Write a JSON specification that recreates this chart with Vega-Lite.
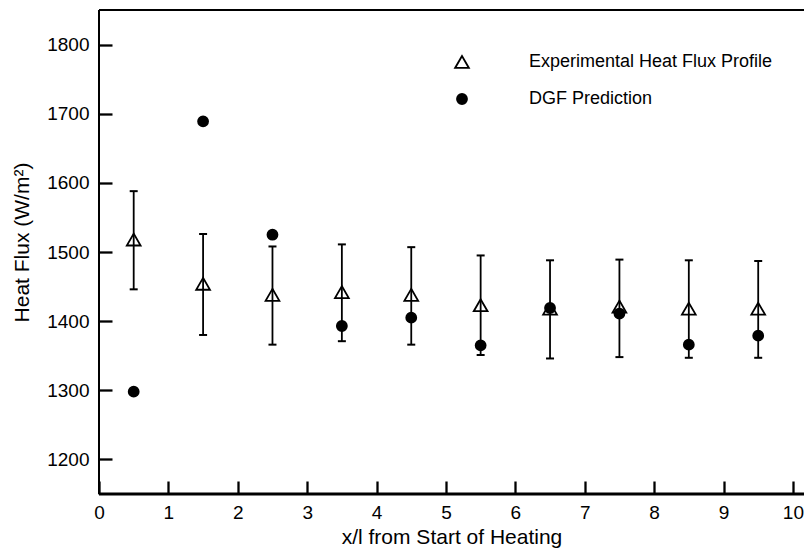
{
  "$schema": "https://vega.github.io/schema/vega-lite/v6.json",
  "width": 705,
  "height": 484,
  "autosize": {"type": "none"},
  "padding": {"left": 99, "top": 10, "right": 0, "bottom": 54},
  "background": "white",
  "config": {
    "view": {"stroke": null},
    "font": "Liberation Sans",
    "axis": {
      "grid": false,
      "domain": false,
      "tickColor": "black",
      "labelColor": "black",
      "titleColor": "black",
      "labelFont": "Liberation Sans",
      "titleFont": "Liberation Sans",
      "labelFontSize": 19,
      "titleFontSize": 21,
      "titleFontWeight": "normal",
      "tickWidth": 2.3,
      "tickSize": 13,
      "offset": -13
    },
    "legend": {
      "labelFont": "Liberation Sans",
      "labelFontSize": 18,
      "labelColor": "black",
      "labelLimit": 400,
      "symbolStrokeWidth": 1.8,
      "padding": 0
    }
  },
  "datasets": {
    "exp": [
      {"x": 0.5, "y": 1518, "lo": 1446, "hi": 1588},
      {"x": 1.5, "y": 1454, "lo": 1380, "hi": 1526},
      {"x": 2.5, "y": 1438, "lo": 1366, "hi": 1508},
      {"x": 3.5, "y": 1442, "lo": 1371, "hi": 1511},
      {"x": 4.5, "y": 1438, "lo": 1366, "hi": 1507},
      {"x": 5.5, "y": 1423, "lo": 1351, "hi": 1495},
      {"x": 6.5, "y": 1418, "lo": 1346, "hi": 1488},
      {"x": 7.5, "y": 1421, "lo": 1348, "hi": 1489},
      {"x": 8.5, "y": 1418, "lo": 1347, "hi": 1488},
      {"x": 9.5, "y": 1418, "lo": 1347, "hi": 1487}
    ],
    "pts": [
      {"series": "Experimental Heat Flux Profile", "x": 0.5, "y": 1518},
      {"series": "Experimental Heat Flux Profile", "x": 1.5, "y": 1454},
      {"series": "Experimental Heat Flux Profile", "x": 2.5, "y": 1438},
      {"series": "Experimental Heat Flux Profile", "x": 3.5, "y": 1442},
      {"series": "Experimental Heat Flux Profile", "x": 4.5, "y": 1438},
      {"series": "Experimental Heat Flux Profile", "x": 5.5, "y": 1423},
      {"series": "Experimental Heat Flux Profile", "x": 6.5, "y": 1418},
      {"series": "Experimental Heat Flux Profile", "x": 7.5, "y": 1421},
      {"series": "Experimental Heat Flux Profile", "x": 8.5, "y": 1418},
      {"series": "Experimental Heat Flux Profile", "x": 9.5, "y": 1418},
      {"series": "DGF Prediction", "x": 0.5, "y": 1298},
      {"series": "DGF Prediction", "x": 1.5, "y": 1689},
      {"series": "DGF Prediction", "x": 2.5, "y": 1525},
      {"series": "DGF Prediction", "x": 3.5, "y": 1393},
      {"series": "DGF Prediction", "x": 4.5, "y": 1405},
      {"series": "DGF Prediction", "x": 5.5, "y": 1365},
      {"series": "DGF Prediction", "x": 6.5, "y": 1419},
      {"series": "DGF Prediction", "x": 7.5, "y": 1411},
      {"series": "DGF Prediction", "x": 8.5, "y": 1366},
      {"series": "DGF Prediction", "x": 9.5, "y": 1379}
    ],
    "border": [{"top": 1850, "bottom": 1150, "left": 0}]
  },
  "layer": [
    {
      "data": {"name": "exp"},
      "mark": {"type": "rule", "strokeWidth": 1.8, "color": "black"},
      "encoding": {
        "x": {
          "field": "x", "type": "quantitative", "title": "x/l from Start of Heating",
          "scale": {"domain": [0, 10.16], "nice": false, "zero": false},
          "axis": {
            "values": [0, 1, 2, 3, 4, 5, 6, 7, 8, 9, 10], "format": "d",
            "labelPadding": 9, "titlePadding": 4, "labelFlush": false
          }
        },
        "y": {
          "field": "lo", "type": "quantitative", "title": "Heat Flux (W/m²)",
          "scale": {"domain": [1150, 1850], "nice": false, "zero": false},
          "axis": {
            "values": [1200, 1300, 1400, 1500, 1600, 1700, 1800], "format": "d",
            "labelPadding": 10, "titlePadding": 14, "titleY": 232
          }
        },
        "y2": {"field": "hi"}
      }
    },
    {
      "data": {"name": "exp"},
      "mark": {"type": "tick", "orient": "horizontal", "size": 8, "thickness": 2, "color": "black", "opacity": 1},
      "encoding": {
        "x": {"field": "x", "type": "quantitative", "title": "x/l from Start of Heating"},
        "y": {"field": "lo", "type": "quantitative", "title": "Heat Flux (W/m²)"}
      }
    },
    {
      "data": {"name": "exp"},
      "mark": {"type": "tick", "orient": "horizontal", "size": 8, "thickness": 2, "color": "black", "opacity": 1},
      "encoding": {
        "x": {"field": "x", "type": "quantitative", "title": "x/l from Start of Heating"},
        "y": {"field": "hi", "type": "quantitative", "title": "Heat Flux (W/m²)"}
      }
    },
    {
      "data": {"name": "border"},
      "mark": {"type": "rule", "strokeWidth": 2, "color": "black"},
      "encoding": {
        "y": {"field": "top", "type": "quantitative", "title": "Heat Flux (W/m²)"}
      }
    },
    {
      "data": {"name": "border"},
      "mark": {"type": "rule", "strokeWidth": 3, "color": "black"},
      "encoding": {
        "y": {"field": "bottom", "type": "quantitative", "title": "Heat Flux (W/m²)"}
      }
    },
    {
      "data": {"name": "border"},
      "mark": {"type": "rule", "strokeWidth": 2, "color": "black"},
      "encoding": {
        "x": {"field": "left", "type": "quantitative", "title": "x/l from Start of Heating"}
      }
    },
    {
      "data": {"name": "pts"},
      "mark": {"type": "point", "strokeWidth": 1.8, "opacity": 1},
      "encoding": {
        "x": {"field": "x", "type": "quantitative", "title": "x/l from Start of Heating"},
        "y": {"field": "y", "type": "quantitative", "title": "Heat Flux (W/m²)"},
        "shape": {
          "field": "series", "type": "nominal", "title": null,
          "scale": {"domain": ["Experimental Heat Flux Profile", "DGF Prediction"], "range": ["triangle-up", "circle"]},
          "legend": {"orient": "none", "legendX": 354, "legendY": 43, "labelOffset": 58, "rowPadding": 18, "title": null, "labelLimit": 400}
        },
        "fill": {
          "field": "series", "type": "nominal", "title": null,
          "scale": {"domain": ["Experimental Heat Flux Profile", "DGF Prediction"], "range": ["transparent", "black"]},
          "legend": {"orient": "none", "legendX": 354, "legendY": 43, "labelOffset": 58, "rowPadding": 18, "title": null, "labelLimit": 400}
        },
        "stroke": {
          "field": "series", "type": "nominal", "title": null,
          "scale": {"domain": ["Experimental Heat Flux Profile", "DGF Prediction"], "range": ["black", "black"]},
          "legend": {"orient": "none", "legendX": 354, "legendY": 43, "labelOffset": 58, "rowPadding": 18, "title": null, "labelLimit": 400}
        },
        "size": {
          "field": "series", "type": "nominal", "title": null,
          "scale": {"domain": ["Experimental Heat Flux Profile", "DGF Prediction"], "range": [190, 100]},
          "legend": {"orient": "none", "legendX": 354, "legendY": 43, "labelOffset": 58, "rowPadding": 18, "title": null, "labelLimit": 400}
        }
      }
    }
  ]
}
